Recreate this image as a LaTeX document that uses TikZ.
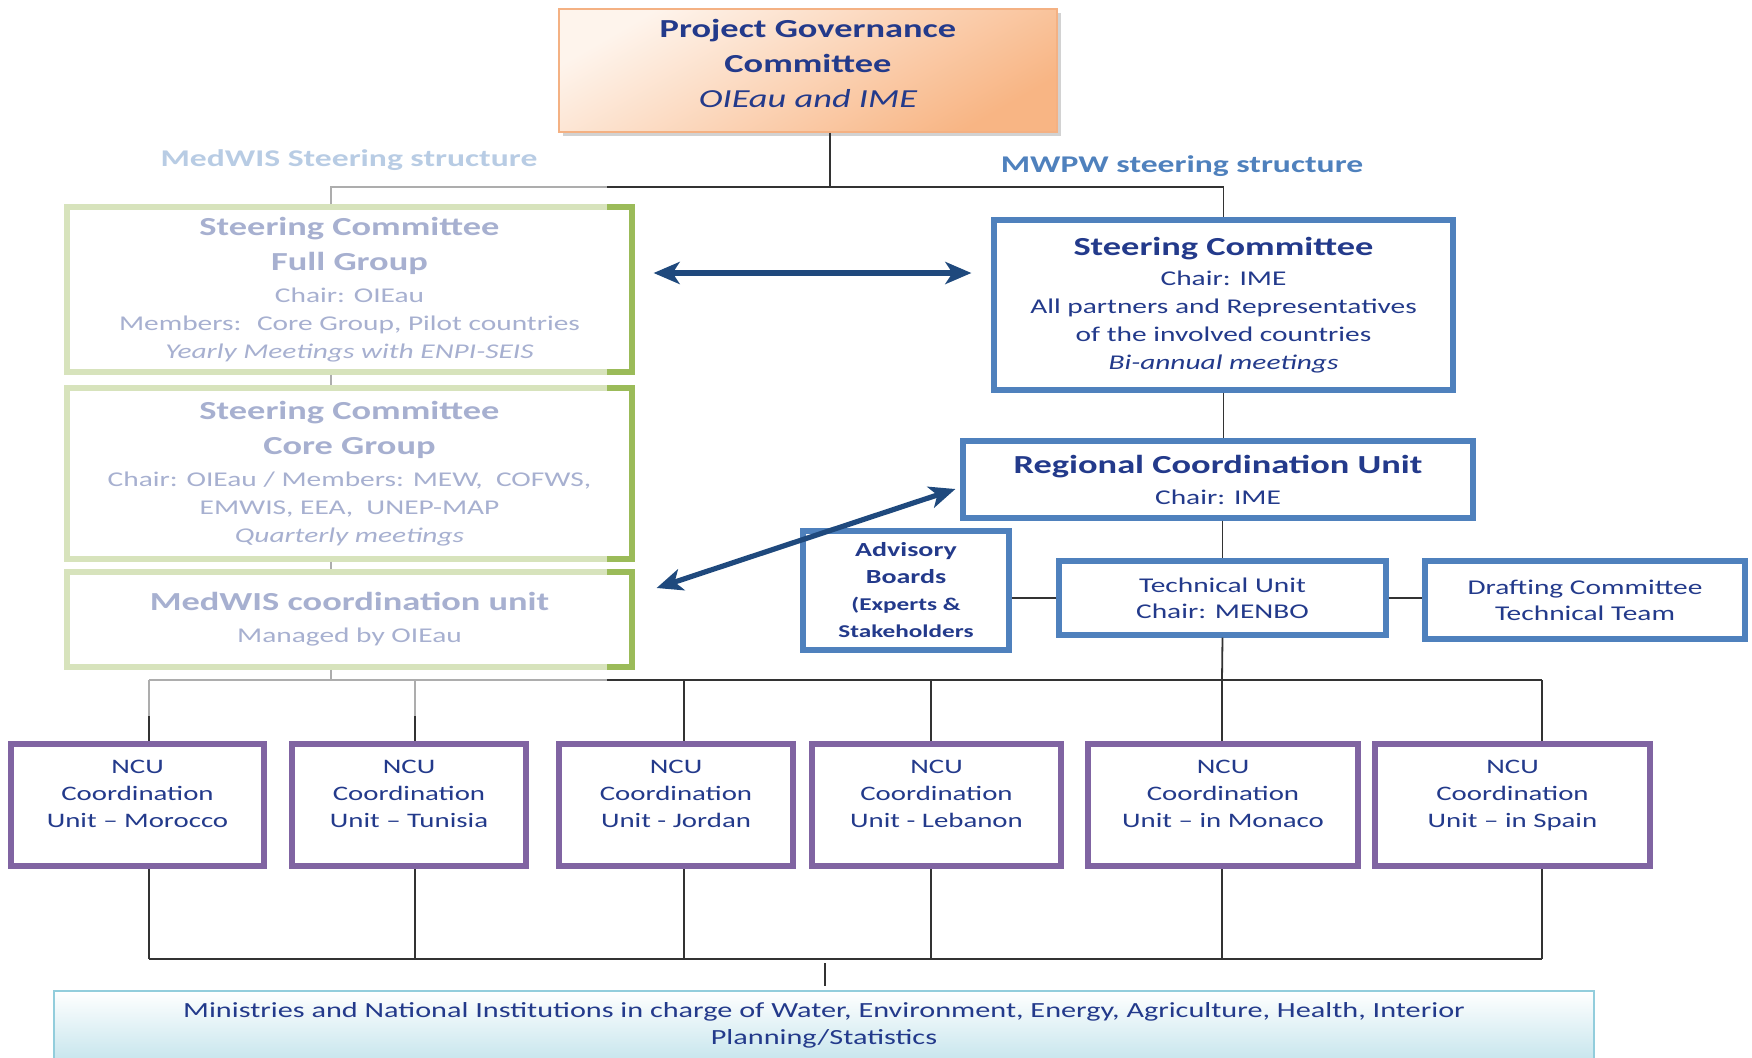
\documentclass[tikz,border=0pt]{standalone}
\usepackage{fontspec}
\setmainfont{Carlito}[FakeStretch=1.4]
\usetikzlibrary{arrows.meta,shadows}

\definecolor{navy}{HTML}{233A8B}
\definecolor{pgcA}{HTML}{FEF4EC}
\definecolor{pgcB}{HTML}{F8B584}
\definecolor{pgcline}{HTML}{F4B183}
\definecolor{medgreen}{HTML}{9BBB59}
\definecolor{boxblue}{HTML}{4F81BD}
\definecolor{ncupurple}{HTML}{8064A2}
\definecolor{arrowblue}{HTML}{1F497D}
\definecolor{minB}{HTML}{B7DEE8}
\definecolor{minline}{HTML}{92CDDC}

\newcommand\boxhead{\fontsize{13}{17.5}\selectfont\bfseries}
\newcommand\boxtext{\fontsize{10.5}{14}\selectfont}

\tikzset{
  govbox/.style={draw=pgcline, line width=0.6pt, top color=pgcA, bottom color=pgcB, shading angle=30,
    drop shadow={shadow xshift=2pt, shadow yshift=-2pt, fill=gray!70}, text=navy, align=center},
  medbox/.style={draw=medgreen, line width=2.6pt, fill=white, text=navy, align=center, minimum width=282.5pt},
  mwbox/.style={draw=boxblue, line width=2.6pt, fill=white, text=navy, align=center},
  ncubox/.style={draw=ncupurple, line width=3pt, fill=white, text=navy, align=center,
    minimum height=61pt, text depth=11.5pt, font=\fontsize{10.3}{13.5}\selectfont},
  link/.style={draw=black!80, line width=0.9pt},
  twoway/.style={arrowblue, line width=2.6pt,
    {Stealth[length=13pt,width=11pt,inset=3.5pt]}-{Stealth[length=13pt,width=11pt,inset=3.5pt]}},
}

\begin{document}
\begin{tikzpicture}[x=0.5pt,y=-0.5pt]
\useasboundingbox (0,0) rectangle (1752,1057);
\clip (0,0) rectangle (1752,1057);

% governance
\node[govbox, minimum width=249pt, minimum height=61.5pt, text depth=7.5pt, font=\boxhead] (pgc) at (808,70.5)
  {Project Governance\\Committee\\{\mdseries\itshape OIEau and IME}};
\node[font=\fontsize{12}{14}\selectfont\bfseries, text=boxblue] (medlbl) at (349,160) {MedWIS Steering structure};
\node[font=\fontsize{12}{14}\selectfont\bfseries, text=boxblue] (mwlbl) at (1182,166) {MWPW steering structure};

% MedWIS side
\node[medbox, minimum height=82.5pt, font=\boxtext] (fg) at (349.5,289.5)
  {{\boxhead Steering Committee}\\[3.5pt]{\boxhead Full Group}\\[2pt]Chair: OIEau\\Members:~ Core Group, Pilot countries\\{\itshape Yearly Meetings with ENPI-SEIS}};
\node[medbox, minimum height=85.5pt, font=\boxtext] (cg) at (349.5,473.5)
  {{\boxhead Steering Committee}\\[3.5pt]{\boxhead Core Group}\\[2pt]Chair: OIEau / Members: MEW,~ COFWS,\\EMWIS, EEA,~ UNEP-MAP\\{\itshape Quarterly meetings}};
\node[medbox, minimum height=47.5pt, font=\boxtext] (mu) at (349.5,619.5)
  {{\boxhead MedWIS coordination unit}\\[2pt]Managed by OIEau};

% MWPW side
\node[mwbox, minimum width=229.5pt, minimum height=85pt, font=\fontsize{10.5}{14}\selectfont] (sc) at (1223.5,305)
  {{\boxhead Steering Committee}\\[1pt]Chair: IME\\All partners and Representatives\\of the involved countries\\{\itshape Bi-annual meetings}};
\node[mwbox, minimum width=255pt, minimum height=38.5pt, font=\fontsize{10.5}{14}\selectfont] (rcu) at (1218,479.5)
  {{\boxhead Regional Coordination Unit}\\[1.5pt]Chair: IME};
\node[mwbox, minimum width=103pt, minimum height=59.5pt, font=\fontsize{9}{13.5}\selectfont\bfseries] (adv) at (906,590.5)
  {{\fontsize{10}{13.5}\selectfont Advisory}\\{\fontsize{10}{13.5}\selectfont Boards}\\(Experts \&\\Stakeholders};
\node[mwbox, minimum width=163.5pt, minimum height=37pt, font=\fontsize{10.5}{13}\selectfont] (tu) at (1222.5,598)
  {Technical Unit\\Chair: MENBO};
\node[mwbox, minimum width=160pt, minimum height=39pt, font=\fontsize{10.5}{13}\selectfont] (dc) at (1585,600)
  {Drafting Committee\\Technical Team};

% national units
\foreach \i/\cx/\bw/\dx/\place in {1/137.5/126.5/149/Unit – Morocco, 2/409/117/415/Unit – Tunisia,
    3/676/117/684/Unit - Jordan, 4/936.5/124.5/931/Unit - Lebanon,
    5/1223/135/1222/Unit – in Monaco, 6/1512.5/137.5/1542/Unit – in Spain}{
  \node[ncubox, minimum width=\bw pt] (n\i) at (\cx,805) {NCU\\Coordination\\\place};
  \coordinate (u\i) at (\dx,680);
  \coordinate (l\i) at (\dx,959);
}

\node[draw=minline, line width=0.8pt, top color=white, bottom color=minB, anchor=north,
  minimum width=770pt, minimum height=45pt, text depth=12pt, text=navy, align=center,
  font=\fontsize{10.8}{13.5}\selectfont] (min) at (824,990)
  {Ministries and National Institutions in charge of Water, Environment, Energy, Agriculture, Health, Interior\\Planning/Statistics};

% connectors
\coordinate (tb) at (830,187);
\coordinate (gx) at (331,187);
\coordinate (ms) at (825,959);
\draw[link] (pgc.south -| tb) -- (tb);
\draw[link] (fg.north -| gx) -- (gx) -- (tb -| sc.north) -- (sc.north);
\draw[link] (fg.south -| gx) -- (cg.north -| gx);
\draw[link] (cg.south -| gx) -- (mu.north -| gx);
\draw[link] (mu.south -| gx) -- (gx |- u1);
\draw[link] (sc.south) -- (sc.south |- rcu.north);
\draw[link] (rcu.south -| tu.north) -- (tu.north);
\draw[link] (tu.south) -- (u5);
\draw[link] (tu.west) -- (tu.west -| adv.east);
\draw[link] (tu.east) -- (tu.east -| dc.west);
\draw[link] (u1) -- (u6);
\draw[link] (l1) -- (l6);
\foreach \i in {1,...,6}{
  \draw[link] (u\i) -- (u\i |- n\i.north);
  \draw[link] (n\i.south -| l\i) -- (l\i);
}
\draw[link] ([yshift=-2pt]ms) -- ([yshift=2pt]ms |- min.north);

% fade the MedWIS side
\fill[white, opacity=0.6] (0,140) rectangle (607,716);

% exchanges
\draw[twoway, shorten <=9.5pt, shorten >=10pt] ([yshift=8.25pt]fg.east) -- ([yshift=8.25pt]fg.east -| sc.west);
\draw[twoway] ([xshift=11pt,yshift=15.75pt]mu.east) -- ([xshift=-2.5pt,yshift=-4.75pt]rcu.west);
\end{tikzpicture}
\end{document}
